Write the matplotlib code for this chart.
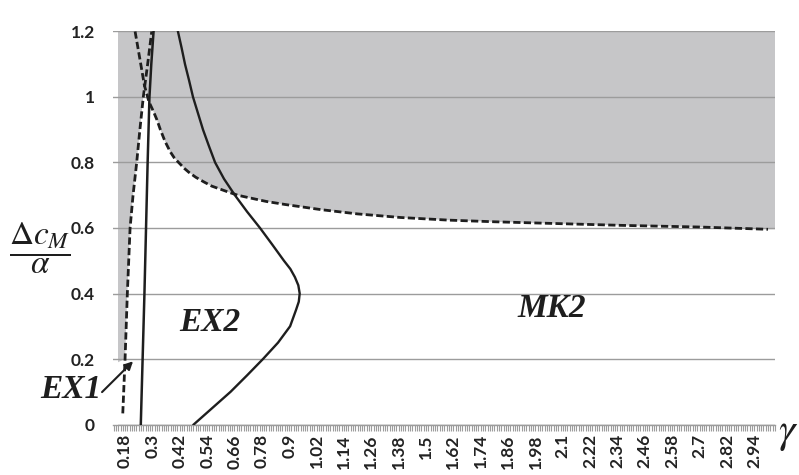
import matplotlib.pyplot as plt
from matplotlib.ticker import FixedLocator, MultipleLocator, NullFormatter

plt.rcParams['mathtext.fontset'] = 'stix'

# axis labels
gamma_labels = ['0.18', '0.3', '0.42', '0.54', '0.66', '0.78', '0.9', '1.02',
                '1.14', '1.26', '1.38', '1.5', '1.62', '1.74', '1.86', '1.98',
                '2.1', '2.22', '2.34', '2.46', '2.58', '2.7', '2.82', '2.94']
ratio_labels = ['0', '0.2', '0.4', '0.6', '0.8', '1', '1.2']

# EX1 boundary, dashed (rising branch)
ex1_dash_gamma = [0.170, 0.180, 0.190, 0.202, 0.215, 0.231, 0.245, 0.260, 0.279, 0.297]
ex1_dash_ratio = [0.034, 0.2, 0.4, 0.6, 0.7, 0.8, 0.9, 1.0, 1.1, 1.2]

# MK2 boundary, dashed (falling branch)
mk2_gamma = [0.224, 0.244, 0.265, 0.285, 0.305, 0.32, 0.335, 0.355, 0.378, 0.395,
             0.415, 0.44, 0.46, 0.49, 0.525, 0.56, 0.6, 0.64, 0.675, 0.72, 0.8,
             0.88, 0.95, 1.04, 1.2, 1.39, 1.6, 1.8, 2.0, 2.36, 2.7, 3.0]
mk2_ratio = [1.2, 1.12, 1.035, 0.985, 0.955, 0.93, 0.90, 0.865, 0.833, 0.815,
             0.80, 0.782, 0.77, 0.755, 0.741, 0.728, 0.718, 0.708, 0.70, 0.693, 0.681,
             0.672, 0.665, 0.656, 0.643, 0.632, 0.624, 0.619, 0.615, 0.608, 0.603, 0.596]

# EX1 boundary, solid
ex1_gamma = [0.249, 0.257, 0.265, 0.272, 0.279, 0.287, 0.295, 0.305]
ex1_ratio = [0.0, 0.2, 0.4, 0.6, 0.8, 1.0, 1.1, 1.2]

# EX2 boundary, solid
ex2_gamma = [0.412, 0.428, 0.443, 0.461, 0.478, 0.500, 0.522, 0.548, 0.575, 0.614,
             0.662, 0.715, 0.772, 0.825, 0.877, 0.905, 0.925, 0.94, 0.946, 0.942,
             0.930, 0.904, 0.851, 0.785, 0.715, 0.643, 0.562, 0.481]
ex2_ratio = [1.2, 1.15, 1.1, 1.05, 1.0, 0.95, 0.9, 0.85, 0.8, 0.75,
             0.7, 0.65, 0.6, 0.55, 0.5, 0.475, 0.45, 0.425, 0.4, 0.375,
             0.35, 0.3, 0.25, 0.2, 0.15, 0.1, 0.05, 0.0]

# shaded zone limits
shade_left = 0.149
strip_bottom = 0.19
x_min, x_max = 0.127, 3.031
y_min, y_max = 0.0, 1.2

shade = '#c6c6c8'
ink = '#1e1e1e'

fig = plt.figure(figsize=(7.99, 4.75), dpi=100)
ax = fig.add_axes([0.1414, 0.1063, 0.9700 - 0.1414, 0.9337 - 0.1063])

# gray everywhere, then carve out the white (unshaded) region
ax.axvspan(shade_left, x_max, color=shade, lw=0, zorder=0.5)
cross = mk2_gamma.index(0.265)
white_x = [shade_left, shade_left]
white_y = [y_min, strip_bottom]
for g, r in zip(ex1_dash_gamma, ex1_dash_ratio):
    if strip_bottom <= r < mk2_ratio[cross]:
        white_x.append(g)
        white_y.append(r)
white_x += mk2_gamma[cross:] + [x_max, x_max]
white_y += mk2_ratio[cross:] + [mk2_ratio[-1], y_min]
ax.fill(white_x, white_y, color='white', lw=0, zorder=0.6)

for r in [float(v) for v in ratio_labels[1:]]:
    ax.axhline(r, color='#9c9c9c', lw=1.0, zorder=1.5)

ax.plot(ex1_dash_gamma, ex1_dash_ratio, color=ink, lw=2.0, dashes=(2.6, 1.2), zorder=3)
ax.plot(mk2_gamma, mk2_ratio, color=ink, lw=2.0, dashes=(2.6, 1.2), zorder=3)
ax.plot(ex1_gamma, ex1_ratio, color=ink, lw=1.8, zorder=3)
ax.plot(ex2_gamma, ex2_ratio, color=ink, lw=1.7, zorder=3)

ax.set_xlim(x_min, x_max)
ax.set_ylim(y_min, y_max)

for s in ['top', 'right', 'left']:
    ax.spines[s].set_visible(False)
ax.spines['bottom'].set_color('#9c9c9c')
ax.spines['bottom'].set_linewidth(1.0)

ax.xaxis.set_major_locator(FixedLocator([float(v) for v in gamma_labels]))
ax.set_xticklabels(gamma_labels, rotation=90, fontsize=12.5, fontweight='bold',
                   family='Lato', color='#222222')
ax.xaxis.set_minor_locator(MultipleLocator(0.01))
ax.xaxis.set_minor_formatter(NullFormatter())
ax.tick_params(axis='x', which='both', length=4, width=0.8, color='#9c9c9c', pad=3)

ax.yaxis.set_major_locator(FixedLocator([float(v) for v in ratio_labels]))
ax.set_yticklabels(ratio_labels, fontsize=12.5, fontweight='bold', family='Lato',
                   color='#222222')
ax.tick_params(axis='y', length=0, pad=13)

region_font = dict(family='Liberation Serif', style='italic', fontweight='bold',
                   fontsize=24, color=ink)
ax.text(0.55, 0.31, 'EX2', ha='center', va='center', **region_font)
ax.text(2.05, 0.353, 'MK2', ha='center', va='center', **region_font)
fig.text(0.089, 0.179, 'EX1', ha='center', va='center', **region_font)
ax.annotate('', xy=(0.215, 0.193), xytext=(0.079, 0.099),
            arrowprops=dict(arrowstyle='-|>', color=ink, lw=1.5,
                            mutation_scale=12, shrinkA=0, shrinkB=0),
            annotation_clip=False)

fig.text(0.05, 0.478, r'$\dfrac{\Delta c_M}{\alpha}$', ha='center', va='center',
         fontsize=24, color=ink)
fig.text(0.986, 0.09, r'$\gamma$', ha='center', va='center', fontsize=30, color=ink)

fig.savefig('out.png', dpi=100, facecolor='white')
